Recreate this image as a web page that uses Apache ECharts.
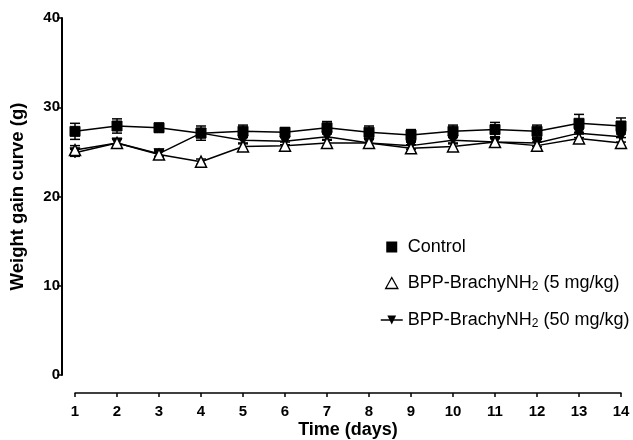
<!DOCTYPE html>
<html><head><meta charset="utf-8">
<script src="https://cdn.jsdelivr.net/npm/echarts@6/dist/echarts.min.js"></script>
<style>html,body{margin:0;padding:0;background:#fff}#c{width:633px;height:440px}</style>
</head><body><div id="c"></div>
<script>
var days = [1,2,3,4,5,6,7,8,9,10,11,12,13,14];
var controlVals = [27.3,27.9,27.7,27.1,27.3,27.2,27.7,27.2,26.9,27.3,27.5,27.3,28.2,27.9];
var controlErr  = [0.9,0.8,0.5,0.8,0.7,0.5,0.7,0.7,0.6,0.7,0.8,0.7,1.0,0.9];
var low5Vals    = [25.2,26.0,24.7,23.9,25.6,25.7,26.0,26.0,25.4,25.6,26.1,25.7,26.5,26.0];
var low5Err     = [0.5,0.4,0.4,0.3,0.4,0.4,0.4,0.4,0.4,0.4,0.4,0.4,0.5,0.6];
var high50Vals  = [24.9,26.0,24.8,27.1,26.3,26.2,26.7,26.0,25.7,26.3,26.1,26.0,27.1,26.7];
var high50Err   = [0.4,0.4,0.3,0.5,0.4,0.4,0.4,0.4,0.4,0.4,0.4,0.4,0.5,0.6];
var yTicks = [0,10,20,30,40];
var names = ['Control','BPP-BrachyNH2 (5 mg/kg)','BPP-BrachyNH2 (50 mg/kg)'];

function pairs(v){ return days.map(function(d,i){ return [d, v[i]]; }); }
function errData(v,e){ return days.map(function(d,i){ return [d, v[i]-e[i], v[i]+e[i]]; }); }
function errSeries(v,e,z){
  return {
    type:'custom', z:z, silent:true,
    data: errData(v,e),
    renderItem: function(params, api){
      var x = api.value(0);
      var lo = api.coord([x, api.value(1)]);
      var hi = api.coord([x, api.value(2)]);
      var w = 5;
      var st = {stroke:'#000', lineWidth:1.5};
      return {type:'group', children:[
        {type:'line', shape:{x1:hi[0],y1:hi[1],x2:lo[0],y2:lo[1]}, style:st},
        {type:'line', shape:{x1:hi[0]-w,y1:hi[1],x2:hi[0]+w,y2:hi[1]}, style:st},
        {type:'line', shape:{x1:lo[0]-w,y1:lo[1],x2:lo[0]+w,y2:lo[1]}, style:st}
      ]};
    }
  };
}

var chart = echarts.init(document.getElementById('c'));
var font = 'Liberation Sans, Arial, Helvetica, sans-serif';
chart.setOption({
  animation:false,
  textStyle:{fontFamily:font},
  grid:{left:75, right:12, top:18, bottom:65, containLabel:false, outerBoundsMode:'none'},
  xAxis:{
    type:'value', min:1, max:14, interval:1, offset:18,
    name:'Time (days)', nameLocation:'middle', nameGap:28, nameMoveOverlap:false,
    nameTextStyle:{fontSize:18, fontWeight:'bold', color:'#000', fontFamily:font},
    axisLine:{show:true, onZero:false, lineStyle:{color:'#000', width:1.5}},
    axisTick:{show:true, length:4, lineStyle:{color:'#000', width:1.5}},
    axisLabel:{fontSize:15, fontWeight:'bold', color:'#000', margin:11, fontFamily:font},
    splitLine:{show:false}
  },
  yAxis:{
    type:'value', min:0, max:40, interval:10, offset:13,
    name:'Weight gain curve (g)', nameLocation:'middle', nameGap:35, nameMoveOverlap:false,
    nameTextStyle:{fontSize:18.5, fontWeight:'bold', color:'#000', fontFamily:font},
    axisLine:{show:true, onZero:false, lineStyle:{color:'#000', width:2}},
    axisTick:{show:true, length:5, lineStyle:{color:'#000', width:1.5}},
    axisLabel:{fontSize:15, fontWeight:'bold', color:'#000', margin:2, fontFamily:font,
      formatter:function(v){ return yTicks.indexOf(v) >= 0 ? String(v) : ''; }},
    splitLine:{show:false}
  },
  legend:{
    orient:'vertical', left:375, top:233, itemGap:18, itemWidth:22, itemHeight:11,
    itemTextGap:12, symbolKeepAspect:true,
    data:[
      {name:names[0], icon:'path://M0,0L10,0L10,10L0,10Z', itemStyle:{color:'#000'}, lineStyle:{opacity:0}},
      {name:names[1], icon:'path://M5,0L10,9L0,9Z', itemStyle:{color:'#fff', borderColor:'#000', borderWidth:1.3}, lineStyle:{opacity:0}},
      {name:names[2], lineStyle:{color:'#000', width:1.5}}
    ],
    formatter:function(n){
      if(n === names[0]) return '{a|Control}';
      if(n === names[1]) return '{a|BPP-BrachyNH}{s|2}{a| (5 mg/kg)}';
      return '{a|BPP-BrachyNH}{s|2}{a| (50 mg/kg)}';
    },
    textStyle:{
      color:'#000', fontFamily:font, fontSize:18,
      rich:{
        a:{fontSize:18, color:'#000', fontFamily:font, lineHeight:20, verticalAlign:'middle'},
        s:{fontSize:12, color:'#000', fontFamily:font, lineHeight:20, verticalAlign:'bottom', padding:[7,0,0,0]}
      }
    }
  },
  series:[
    errSeries(high50Vals, high50Err, 2),
    errSeries(low5Vals, low5Err, 3),
    errSeries(controlVals, controlErr, 4),
    {name:names[2], type:'line', data:pairs(high50Vals), z:5,
      symbol:'triangle', symbolRotate:180, symbolSize:10,
      lineStyle:{color:'#000', width:1.5}, itemStyle:{color:'#000', borderColor:'#000'}},
    {name:names[1], type:'line', data:pairs(low5Vals), z:6,
      symbol:'triangle', symbolSize:11,
      lineStyle:{color:'#000', width:1.5}, itemStyle:{color:'#fff', borderColor:'#000', borderWidth:1.5}},
    {name:names[0], type:'line', data:pairs(controlVals), z:7,
      symbol:'rect', symbolSize:10,
      lineStyle:{color:'#000', width:1.5}, itemStyle:{color:'#000', borderColor:'#000'}}
  ]
});
</script></body></html>
